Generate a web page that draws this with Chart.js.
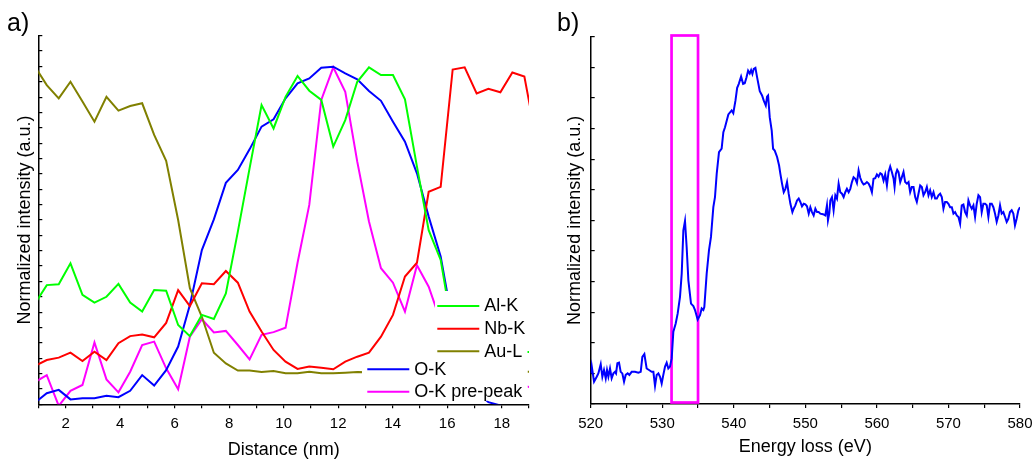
<!DOCTYPE html>
<html>
<head>
<meta charset="utf-8">
<script src="https://cdn.jsdelivr.net/npm/chart.js@4.4.1/dist/chart.umd.min.js"></script>
<style>
html,body{margin:0;padding:0;background:#fff;}
body{width:1035px;height:464px;position:relative;overflow:hidden;font-family:"Liberation Sans",Arial,sans-serif;}
.wrap{position:absolute;top:0;height:464px;}
#wa{left:0;width:545px;}
#wb{left:545px;width:490px;}
.plabel{position:absolute;font-size:25px;line-height:25px;color:#000;}
</style>
</head>
<body>
<div class="wrap" id="wa"><canvas id="ca" width="545" height="464"></canvas></div>
<div class="wrap" id="wb"><canvas id="cb" width="490" height="464"></canvas></div>
<div class="plabel" style="left:7px;top:10px;">a)</div>
<div class="plabel" style="left:557px;top:10px;">b)</div>
<script>
// ---------- Panel a data ----------
const distance = [0.87,1.31,1.75,2.18,2.62,3.06,3.50,3.94,4.37,4.81,5.25,5.69,6.13,6.56,7.00,7.44,7.88,8.32,8.75,9.19,9.63,10.07,10.51,10.94,11.38,11.82,12.26,12.70,13.13,13.57,14.01,14.45,14.89,15.32,15.76,16.20,16.64,17.08,17.51,17.95,18.39,18.83,19.27];
const alK  = [0.327,0.388,0.391,0.459,0.356,0.331,0.350,0.392,0.331,0.302,0.372,0.370,0.258,0.222,0.291,0.278,0.361,0.562,0.768,0.974,0.898,1.001,1.069,1.021,0.991,0.839,0.925,1.050,1.097,1.072,1.072,0.993,0.774,0.567,0.470,0.240,0.210,0.190,0.180,0.170,0.180,0.170,0.170];
const nbK  = [0.125,0.144,0.152,0.168,0.141,0.171,0.144,0.199,0.222,0.227,0.218,0.265,0.372,0.320,0.394,0.391,0.434,0.396,0.302,0.237,0.177,0.139,0.115,0.123,0.119,0.114,0.139,0.155,0.168,0.220,0.291,0.416,0.461,0.692,0.708,1.090,1.097,1.012,1.027,1.016,1.080,1.067,0.860];
const auL  = [1.101,1.039,0.996,1.050,0.986,0.920,1.001,0.956,0.971,0.980,0.877,0.793,0.600,0.378,0.285,0.168,0.133,0.110,0.110,0.105,0.108,0.101,0.101,0.106,0.101,0.101,0.103,0.105,0.104,0.102,0.105,0.103,0.104,0.102,0.105,0.103,0.104,0.102,0.105,0.103,0.104,0.106,0.105];
const oK   = [0.005,0.036,0.047,0.016,0.020,0.020,0.028,0.023,0.044,0.095,0.061,0.111,0.188,0.323,0.502,0.602,0.721,0.763,0.830,0.904,0.928,0.996,1.045,1.061,1.096,1.099,1.077,1.058,1.020,0.988,0.920,0.855,0.752,0.611,0.481,0.264,0.120,0.040,0.007,-0.004,-0.020,-0.020,-0.020];
const oKpre= [0.072,0.095,-0.005,0.044,0.063,0.201,0.081,0.039,0.106,0.193,0.204,0.117,0.049,0.220,0.277,0.234,0.239,0.193,0.146,0.226,0.235,0.249,0.461,0.649,0.991,1.097,1.017,0.790,0.595,0.443,0.396,0.302,0.453,0.383,0.270,0.180,0.120,0.090,0.070,0.060,0.060,0.060,0.050];
const seriesNames = ["Al-K","Nb-K","Au-L","O-K","O-K pre-peak"];
const seriesColors = ["#00ff00","#ff0000","#808000","#0000ff","#ff00ff"];
const distanceTicks = [2,4,6,8,10,12,14,16,18];

// ---------- Panel b data ----------
const energy = [520.00,520.14,520.47,520.84,521.07,521.40,521.63,521.86,522.10,522.28,522.47,522.70,522.93,523.17,523.40,523.54,523.73,523.96,524.19,524.42,524.66,524.89,525.17,525.40,525.73,526.19,526.66,526.99,527.22,527.50,527.82,528.15,528.52,528.76,528.99,529.22,529.46,529.69,529.92,530.15,530.39,530.62,530.85,531.08,531.32,531.55,531.88,532.16,532.48,532.72,532.95,533.18,533.41,533.65,534.02,534.35,534.58,534.95,535.28,535.51,535.74,535.88,536.21,536.53,536.81,537.14,537.37,537.61,537.93,538.30,538.54,538.77,539.24,539.70,539.93,540.23,540.47,540.70,541.02,541.30,541.53,541.77,542.00,542.23,542.42,542.60,542.79,543.02,543.26,543.63,543.95,544.19,544.47,544.65,544.79,545.02,545.30,545.49,545.72,546.05,546.33,546.51,546.74,546.98,547.21,547.44,547.67,547.91,548.19,548.37,548.60,548.84,549.07,549.30,549.53,549.77,550.00,550.23,550.47,550.70,550.93,551.16,551.40,551.63,551.86,552.09,552.47,552.79,553.02,553.16,553.35,553.49,553.72,553.95,554.19,554.42,554.65,554.88,555.12,555.35,555.58,555.81,556.05,556.28,556.51,556.74,556.98,557.21,557.44,557.67,557.91,558.14,558.37,558.60,558.84,559.07,559.30,559.53,559.77,560.00,560.23,560.47,560.70,560.93,561.16,561.40,561.63,561.86,562.09,562.33,562.47,562.65,562.84,563.02,563.26,563.49,563.72,563.95,564.19,564.42,564.65,564.88,565.12,565.35,565.58,565.81,566.05,566.28,566.51,566.74,566.98,567.21,567.44,567.67,567.91,568.14,568.37,568.60,568.84,569.07,569.30,569.53,569.77,570.00,570.23,570.47,570.70,570.93,571.16,571.40,571.63,571.86,572.09,572.33,572.56,572.79,573.02,573.26,573.49,573.72,573.95,574.19,574.42,574.65,574.88,575.12,575.35,575.58,575.81,576.05,576.28,576.51,576.74,576.98,577.21,577.44,577.67,577.91,578.14,578.37,578.60,578.84,579.07,579.30,579.53,579.77,580.00];
const intensity = [0.100,0.124,0.073,0.089,0.100,0.130,0.089,0.111,0.084,0.111,0.089,0.116,0.084,0.100,0.105,0.100,0.133,0.135,0.105,0.100,0.073,0.095,0.100,0.095,0.105,0.105,0.102,0.105,0.154,0.163,0.116,0.111,0.105,0.105,0.059,0.095,0.100,0.089,0.067,0.095,0.122,0.135,0.116,0.122,0.149,0.236,0.263,0.296,0.350,0.426,0.567,0.598,0.513,0.404,0.328,0.320,0.307,0.276,0.290,0.312,0.307,0.317,0.426,0.502,0.546,0.643,0.676,0.752,0.823,0.834,0.888,0.904,0.946,0.959,0.950,0.991,1.033,1.046,1.070,1.046,1.048,1.067,1.089,1.080,1.091,1.078,1.095,1.098,1.067,1.022,1.008,0.991,0.975,1.004,1.008,0.937,0.893,0.834,0.828,0.807,0.779,0.752,0.720,0.692,0.703,0.725,0.687,0.654,0.627,0.638,0.649,0.665,0.671,0.660,0.646,0.654,0.652,0.646,0.622,0.643,0.627,0.616,0.638,0.627,0.627,0.622,0.620,0.616,0.649,0.600,0.624,0.665,0.676,0.633,0.682,0.671,0.720,0.692,0.687,0.676,0.692,0.703,0.692,0.703,0.725,0.741,0.736,0.722,0.763,0.739,0.725,0.717,0.720,0.725,0.720,0.709,0.692,0.736,0.738,0.750,0.743,0.754,0.750,0.730,0.750,0.714,0.758,0.776,0.758,0.736,0.709,0.752,0.765,0.758,0.725,0.741,0.758,0.725,0.720,0.725,0.692,0.709,0.709,0.676,0.660,0.687,0.714,0.709,0.682,0.692,0.709,0.682,0.698,0.676,0.692,0.671,0.671,0.682,0.687,0.676,0.638,0.660,0.660,0.654,0.643,0.643,0.622,0.627,0.616,0.611,0.589,0.649,0.652,0.627,0.616,0.665,0.649,0.638,0.649,0.611,0.654,0.682,0.676,0.627,0.654,0.654,0.649,0.611,0.654,0.654,0.643,0.622,0.595,0.616,0.649,0.622,0.627,0.611,0.595,0.605,0.627,0.633,0.622,0.584,0.605,0.633,0.643];
const energyTicks = [520,530,540,550,560,570,580];
const preEdgeWindow = [531.3, 535.0];

// ---------- common ----------
const FONT = "'Liberation Sans', Arial, sans-serif";
Chart.defaults.font.family = FONT;
Chart.defaults.color = '#000';
Chart.defaults.animation = false;

function xyData(xs, ys){ return xs.map((x,i)=>({x:x, y:ys[i]})); }
function noPad(s){ s.paddingLeft = 0; s.paddingRight = 0; s.paddingTop = 0; s.paddingBottom = 0; }

// Legend with opaque white background, drawn inside the plot (panel a)
const boxLegend = {
  id: 'boxLegend',
  afterDatasetsDraw(chart){
    const ctx = chart.ctx;
    const a = chart.chartArea;
    ctx.save();
    ctx.fillStyle = '#fff';
    ctx.fillRect(435, 291, a.right - 1.5 - 435, 400.5 - 291);
    ctx.fillRect(362, 360, a.right - 1.5 - 362, 400.5 - 360);
    const rows = [
      {x:437.3, y:306.0},
      {x:437.3, y:328.8},
      {x:437.3, y:351.3},
      {x:367.3, y:369.3},
      {x:367.3, y:391.7}
    ];
    ctx.font = "18px " + FONT;
    ctx.textBaseline = 'middle';
    ctx.textAlign = 'left';
    chart.data.datasets.forEach((ds, i) => {
      const r = rows[i];
      ctx.strokeStyle = ds.borderColor;
      ctx.lineWidth = 2;
      ctx.beginPath();
      ctx.moveTo(r.x, r.y);
      ctx.lineTo(r.x + 42, r.y);
      ctx.stroke();
      ctx.fillStyle = '#000';
      ctx.fillText(ds.label, r.x + 47, r.y + 0.5);
    });
    ctx.restore();
  }
};

// Pre-edge window rectangle (panel b)
const windowBox = {
  id: 'windowBox',
  beforeDatasetsDraw(chart){
    const ctx = chart.ctx;
    const xs = chart.scales.x;
    const a = chart.chartArea;
    const x0 = xs.getPixelForValue(preEdgeWindow[0]);
    const x1 = xs.getPixelForValue(preEdgeWindow[1]);
    ctx.save();
    ctx.strokeStyle = '#ff00ff';
    ctx.lineWidth = 2.7;
    ctx.strokeRect(x0, a.top - 1.2, x1 - x0, (a.bottom - 1.5) - (a.top - 1.2));
    ctx.restore();
  }
};

// ---------- Panel a ----------
new Chart(document.getElementById('ca'), {
  type: 'line',
  data: {
    datasets: [alK, nbK, auL, oK, oKpre].map((ys, i) => ({
      label: seriesNames[i],
      data: xyData(distance, ys),
      borderColor: seriesColors[i],
      backgroundColor: seriesColors[i],
      borderWidth: 2,
      pointRadius: 0,
      tension: 0,
      clip: 0
    }))
  },
  options: {
    responsive: false,
    layout: { padding: { left: 0, right: 16, top: 35.7, bottom: 0 } },
    plugins: { legend: { display: false }, tooltip: { enabled: false } },
    scales: {
      x: {
        type: 'linear', min: 1, max: 19,
        afterFit: s => { s.height = 59.7; noPad(s); },
        ticks: {
          stepSize: 1, autoSkip: false, maxRotation: 0, padding: 7,
          font: { size: 15 }, color: '#000',
          callback: v => distanceTicks.includes(v) ? String(v) : ''
        },
        grid: { drawOnChartArea: false, drawTicks: true, tickLength: 4, color: '#000', lineWidth: 1.2 },
        border: { display: true, color: '#000', width: 1.5 },
        title: { display: true, text: 'Distance (nm)', font: { size: 18 }, color: '#000', padding: { top: 0, bottom: 3 } }
      },
      y: {
        type: 'linear', min: 0, max: 1.2,
        afterFit: s => { s.width = 38.3; noPad(s); },
        ticks: { display: false, stepSize: 0.05 },
        grid: { drawOnChartArea: false, drawTicks: true, tickLength: -4, color: '#000', lineWidth: 1.2 },
        border: { display: true, color: '#000', width: 1.5 },
        title: { display: true, text: 'Normalized intensity (a.u.)', font: { size: 18 }, color: '#000', padding: { top: 14.2, bottom: 0 } }
      }
    }
  },
  plugins: [boxLegend]
});

// ---------- Panel b ----------
new Chart(document.getElementById('cb'), {
  type: 'line',
  data: {
    datasets: [{
      label: 'O-K edge',
      data: xyData(energy, intensity),
      borderColor: '#0000ff',
      borderWidth: 2,
      pointRadius: 0,
      tension: 0,
      clip: 0
    }]
  },
  options: {
    responsive: false,
    layout: { padding: { left: 0, right: 15, top: 36.7, bottom: 0 } },
    plugins: { legend: { display: false }, tooltip: { enabled: false } },
    scales: {
      x: {
        type: 'linear', min: 520, max: 580,
        afterFit: s => { s.height = 60; noPad(s); },
        ticks: {
          stepSize: 5, autoSkip: false, maxRotation: 0, padding: 7,
          font: { size: 15 }, color: '#000',
          callback: v => energyTicks.includes(v) ? String(v) : ''
        },
        grid: { drawOnChartArea: false, drawTicks: true, tickLength: 4, color: '#000', lineWidth: 1.2 },
        border: { display: true, color: '#000', width: 1.5 },
        title: { display: true, text: 'Energy loss (eV)', font: { size: 18 }, color: '#000', padding: { top: 0, bottom: 6 } }
      },
      y: {
        type: 'linear', min: 0, max: 1.2,
        afterFit: s => { s.width = 45.7; noPad(s); },
        ticks: { display: false, stepSize: 0.1 },
        grid: { drawOnChartArea: false, drawTicks: true, tickLength: -4, color: '#000', lineWidth: 1.2 },
        border: { display: true, color: '#000', width: 1.5 },
        title: { display: true, text: 'Normalized intensity (a.u.)', font: { size: 18 }, color: '#000', padding: { top: 19.2, bottom: 0 } }
      }
    }
  },
  plugins: [windowBox]
});
</script>
</body>
</html>
